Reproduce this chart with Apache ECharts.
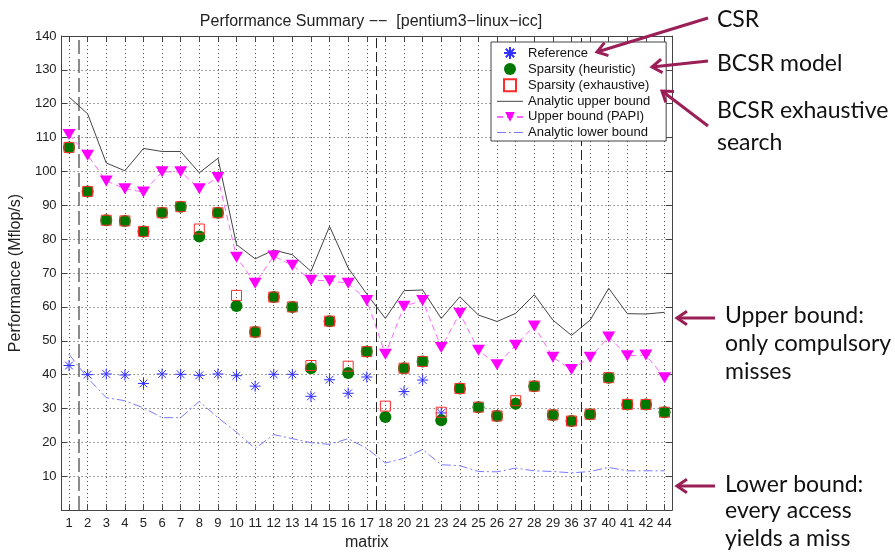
<!DOCTYPE html>
<html>
<head>
<meta charset="utf-8">
<script src="https://cdn.jsdelivr.net/npm/echarts@6.0.0/dist/echarts.min.js"></script>
<style>
  html, body { margin: 0; padding: 0; background: #fff; }
  #perfchart { width: 895px; height: 556px; }
</style>
</head>
<body>
<div id="perfchart"></div>
<script>
  // matrix ids along the x axis
  const matrices = ['1', '2', '3', '4', '5', '6', '7', '8', '9', '10', '11', '12', '13', '14', '15', '16', '17',
    '18', '20', '21', '23', '24', '25', '26', '27', '28', '29', '36', '37', '40', '41', '42', '44'];

  // Mflop/s
  const reference = [42.7, 40.0, 40.2, 39.9, 37.4, 40.2, 40.1, 39.8, 40.2, 39.7, 36.6, 40.1, 40.1, 33.6, 38.5, 34.5, 39.3,
    27.5, 35.0, 38.4, 28.7, 35.9, 30.4, 27.8, 31.4, 36.6, 28.1, 26.3, 28.3, 39.1, 31.2, 31.2, 28.9];
  const heuristic = [107.1, 94.1, 85.6, 85.4, 82.3, 87.8, 89.6, 80.8, 87.8, 60.3, 52.6, 62.9, 60.0, 41.9, 55.8, 40.5, 46.8,
    27.5, 41.9, 43.9, 26.5, 35.9, 30.4, 27.8, 31.4, 36.6, 28.1, 26.3, 28.3, 39.1, 31.2, 31.2, 28.9];
  const exhaustive = [107.1, 94.1, 85.6, 85.4, 82.3, 87.8, 89.6, 83.0, 87.8, 63.4, 52.6, 62.9, 60.0, 42.7, 55.8, 42.5, 46.8,
    30.7, 41.9, 43.9, 28.9, 35.9, 30.4, 27.8, 32.3, 36.6, 28.1, 26.3, 28.3, 39.1, 31.2, 31.2, 28.9];
  const upperAnalytic = [122, 117, 102.5, 100.2, 106.8, 105.9, 105.9, 99.6, 103.9, 78.4, 74.2, 76.8, 75.4, 70.5, 83.8, 71.5, 63.8,
    56.6, 64.8, 65.0, 56.6, 63.0, 57.6, 55.7, 58.1, 63.6, 56.1, 51.6, 56.1, 65.5, 58.0, 57.9, 58.4];
  const upperPapi = [110.9, 104.8, 97.2, 94.9, 93.9, 99.9, 99.9, 94.9, 98.2, 74.7, 67.0, 75.0, 72.3, 67.9, 67.7, 67.0, 61.9,
    46.0, 60.2, 61.9, 48.0, 58.1, 47.2, 42.9, 48.7, 54.4, 45.1, 41.5, 45.1, 51.1, 45.6, 45.8, 39.1];
  const lowerAnalytic = [46.0, 39.0, 33.2, 32.3, 30.2, 27.3, 27.3, 32.1, 27.3, 23.0, 18.2, 22.3, 21.1, 19.9, 19.4, 21.1, 18.2,
    13.9, 15.3, 17.9, 13.4, 13.1, 11.4, 11.3, 12.4, 11.6, 11.4, 11.0, 11.4, 12.6, 11.6, 11.6, 11.6];

  // dashed separators sit between matrix 1|2, 17|18 and 37|40
  const groupBreaks = [1.5, 17.5, 28.5];

  const xs = matrices.map((m, i) => i + 1);
  const pts = (arr) => arr.map((v, i) => [i + 1, v]);

  const asterisk = 'path://M5,0L5,10M0,5L10,5M1.5,1.5L8.5,8.5M8.5,1.5L1.5,8.5';
  const triDown = 'path://M0,0L12,0L6,10Z';
  const baseFont = 'Liberation Sans';
  const noteFont = 'Lato';
  const arrowColor = '#9b1f57';

  // annotation arrow: shaft + open chevron head
  function arrow(x1, y1, x2, y2) {
    let a = Math.atan2(y1 - y2, x1 - x2);
    let h = 12, w = 0.6;
    return [
      {type: 'line', z: 100, shape: {x1: x1, y1: y1, x2: x2, y2: y2}, style: {stroke: arrowColor, lineWidth: 3}},
      {type: 'polyline', z: 100, shape: {points: [
        [x2 + h * Math.cos(a + w), y2 + h * Math.sin(a + w)],
        [x2, y2],
        [x2 + h * Math.cos(a - w), y2 + h * Math.sin(a - w)]
      ]}, style: {stroke: arrowColor, lineWidth: 3, fill: null, lineJoin: 'miter'}}
    ];
  }
  function note(text, x, baseline) {
    return {type: 'text', z: 100, x: x, y: baseline, style: {text: text, font: '23px ' + noteFont, fill: '#111',
      verticalAlign: 'bottom', align: 'left'}};
  }

  let graphics = [].concat(
    arrow(708, 18, 597, 52),
    arrow(708, 61, 652, 67),
    arrow(708, 126, 662, 91),
    arrow(715, 318, 677, 318),
    arrow(715, 486, 677, 486),
    [
      note('CSR', 717, 31),
      note('BCSR model', 717, 75),
      note('BCSR exhaustive', 717, 122),
      note('search', 717, 154),
      note('Upper bound:', 725, 327),
      note('only compulsory', 725, 355),
      note('misses', 725, 383),
      note('Lower bound:', 725, 496),
      note('every access', 725, 522),
      note('yields a miss', 725, 550)
    ]
  );

  const xCommon = {
    type: 'value', min: 0.6, max: 33.4,
    axisLine: {show: true, onZero: false, lineStyle: {color: '#444', width: 1}},
    splitLine: {show: false}
  };
  const yCommon = {
    type: 'value', min: 0, max: 140, interval: 10,
    axisLine: {show: true, lineStyle: {color: '#444', width: 1}}
  };

  const option = {
    animation: false,
    backgroundColor: '#fff',
    title: {
      text: 'Performance Summary \u2212\u2212  [pentium3\u2212linux\u2212icc]',
      left: 366, top: 9, textAlign: 'center',
      textStyle: {fontFamily: baseFont, fontSize: 16, fontWeight: 'normal', color: '#222'}
    },
    grid: {left: 59, right: 223, top: 36, bottom: 36},
    legend: {
      orient: 'vertical', left: 491, top: 42,
      backgroundColor: '#fff', borderColor: '#444', borderWidth: 1, borderRadius: 0,
      padding: [4, 16, 2, 5], itemGap: 2.6, itemWidth: 26, itemHeight: 12,
      textStyle: {fontFamily: baseFont, fontSize: 13, color: '#111', lineHeight: 13},
      data: [
        {name: 'Reference'},
        {name: 'Sparsity (heuristic)'},
        {name: 'Sparsity (exhaustive)', icon: 'path://M0,0h10v10h-10z'},
        {name: 'Analytic upper bound', icon: 'path://M0,0h26v1h-26z'},
        {name: 'Upper bound (PAPI)'},
        {name: 'Analytic lower bound', icon: 'path://M0,0h9v1h-9z M12,0h2v1h-2z M17,0h9v1h-9z'}
      ]
    },
    xAxis: [
      Object.assign({}, xCommon, {
        position: 'bottom',
        name: 'matrix', nameLocation: 'middle', nameGap: 20,
        nameTextStyle: {fontFamily: baseFont, fontSize: 16, color: '#222'},
        axisTick: {show: true, inside: true, length: 6, customValues: xs, lineStyle: {color: '#444'}},
        axisLabel: {customValues: xs, margin: 7, fontFamily: baseFont, fontSize: 13, color: '#222',
          formatter: (v) => matrices[Math.round(v) - 1] || ''}
      }),
      Object.assign({}, xCommon, {
        position: 'top',
        axisTick: {show: true, inside: true, length: 6, customValues: xs, lineStyle: {color: '#444'}},
        axisLabel: {show: false, customValues: xs}
      })
    ],
    yAxis: [
      Object.assign({}, yCommon, {
        position: 'left',
        name: 'Performance (Mflop/s)', nameLocation: 'middle', nameGap: 31,
        nameTextStyle: {fontFamily: baseFont, fontSize: 16, color: '#222'},
        axisTick: {show: true, inside: true, length: 6, lineStyle: {color: '#444'}},
        axisLabel: {showMinLabel: false, margin: 5, fontFamily: baseFont, fontSize: 13, color: '#222'},
        splitLine: {show: true, lineStyle: {color: '#444', width: 1, type: [1, 3]}}
      }),
      Object.assign({}, yCommon, {
        position: 'right',
        axisTick: {show: true, inside: true, length: 6, lineStyle: {color: '#444'}},
        axisLabel: {show: false},
        splitLine: {show: false}
      })
    ],
    series: [
      {
        // vertical dotted grid + the dashed group separators
        name: 'grid', type: 'line', data: [], silent: true,
        markLine: {
          silent: true, symbol: 'none', z: 1, animation: false,
          label: {show: false},
          data: xs.map(x => ({xAxis: x, lineStyle: {color: '#444', width: 1, type: [1, 3]}}))
            .concat(groupBreaks.map((x, i) => ({xAxis: x,
              lineStyle: i === 0 ? {color: '#666', width: 1.5, type: [14, 5]} : {color: '#222', width: 1, type: [10, 4]}})))
        }
      },
      {
        name: 'Reference', type: 'scatter', data: pts(reference),
        symbol: asterisk, symbolSize: 11,
        itemStyle: {color: 'rgba(0,0,0,0)', borderColor: '#3030ff', borderWidth: 1, opacity: 1}
      },
      {
        name: 'Sparsity (heuristic)', type: 'scatter', data: pts(heuristic),
        symbol: 'circle', symbolSize: 12,
        itemStyle: {color: '#007800', opacity: 1}
      },
      {
        name: 'Sparsity (exhaustive)', type: 'scatter', data: pts(exhaustive),
        symbol: 'rect', symbolSize: 10,
        itemStyle: {color: 'rgba(0,0,0,0)', borderColor: '#ff2a2a', borderWidth: 1, opacity: 1}
      },
      {
        name: 'Analytic upper bound', type: 'line', data: pts(upperAnalytic),
        symbol: 'none', lineStyle: {color: '#444', width: 1}, itemStyle: {color: '#444'}
      },
      {
        name: 'Upper bound (PAPI)', type: 'line', data: pts(upperPapi),
        symbol: triDown, symbolSize: [13, 11], showAllSymbol: true,
        itemStyle: {color: '#ff00ff'},
        lineStyle: {color: '#ff66ff', width: 1, type: [6, 4]}
      },
      {
        name: 'Analytic lower bound', type: 'line', data: pts(lowerAnalytic),
        symbol: 'none', lineStyle: {color: '#7a7aff', width: 1, type: [9, 3, 2, 3]},
        itemStyle: {color: '#7a7aff'}
      }
    ],
    graphic: graphics
  };

  let chart = echarts.init(document.getElementById('perfchart'));
  chart.setOption(option, true);
</script>
</body>
</html>
